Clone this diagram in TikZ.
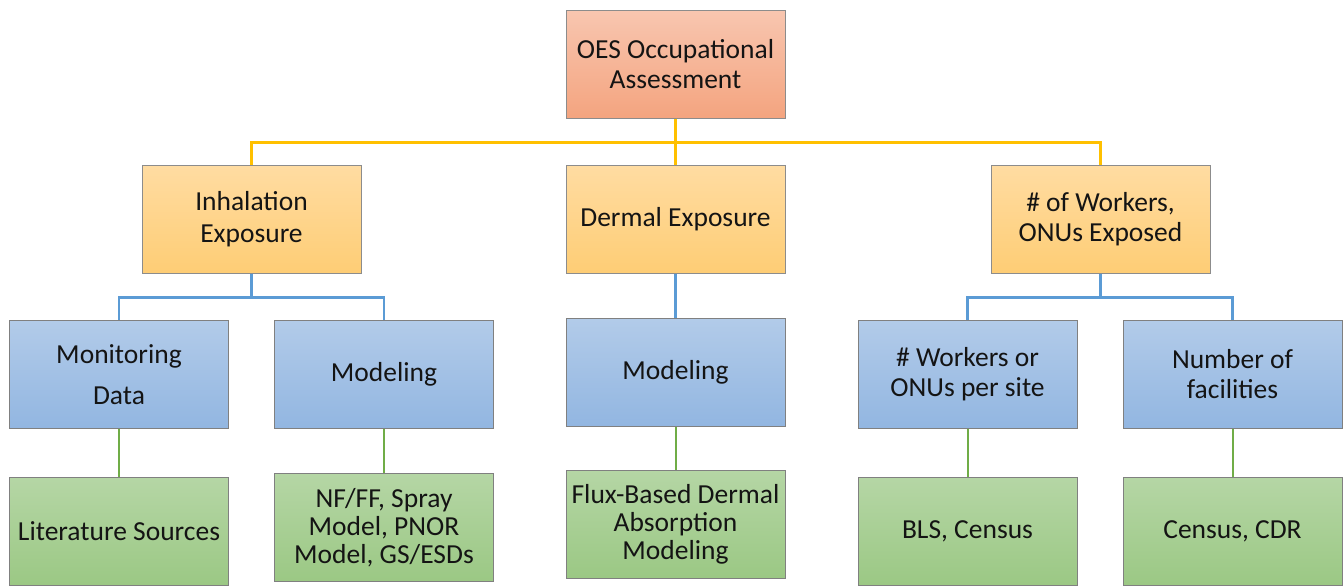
\documentclass[tikz,border=0pt]{standalone}
\usepackage{fontspec}
\setmainfont{Carlito}
\begin{document}
\begin{tikzpicture}[x=1pt,y=-1pt,
  box/.style={draw=#1, line width=1pt, minimum width=219pt, minimum height=108pt,
    align=center, inner sep=2pt, font=\fontsize{27.5}{30}\selectfont, text=black!92},
  rootbox/.style={box=black!45, top color=salmonTop, bottom color=salmonBot},
  midbox/.style={box=black!45, top color=amberTop, bottom color=amberBot},
  bluebox/.style={box=black!50, top color=blueTop, bottom color=blueBot},
  greenbox/.style={box=black!50, top color=greenTop, bottom color=greenBot},
  ylink/.style={draw=linkYellow, line width=2.4pt},
  blink/.style={draw=linkBlue, line width=2.4pt},
  glink/.style={draw=linkGreen, line width=2pt}]
\definecolor{salmonTop}{HTML}{F8C6B0}
\definecolor{salmonBot}{HTML}{F4A47F}
\definecolor{amberTop}{HTML}{FFDCA2}
\definecolor{amberBot}{HTML}{FECD75}
\definecolor{blueTop}{HTML}{B2CBE9}
\definecolor{blueBot}{HTML}{92B6E1}
\definecolor{greenTop}{HTML}{B5D6A5}
\definecolor{greenBot}{HTML}{9BC884}
\definecolor{linkYellow}{HTML}{FFC000}
\definecolor{linkBlue}{HTML}{5B9BD5}
\definecolor{linkGreen}{HTML}{70AD47}

\useasboundingbox (0,0) rectangle (1343,587);

% level 0
\node[rootbox] (oes) at (675.5,64) {OES Occupational\\Assessment};
% level 1
\node[midbox] (inh) at (251.5,219) {Inhalation\\[2pt]Exposure};
\node[midbox] (derm) at (675.5,219) {Dermal Exposure};
\node[midbox] (wrk) at (1100.5,219) {\# of Workers,\\ONUs Exposed};
% level 2
\node[bluebox] (mon) at (119,374.5) {Monitoring\\[11pt]Data};
\node[bluebox] (imod) at (384,374.5) {Modeling};
\node[bluebox] (dmod) at (675.5,372.5) {Modeling};
\node[bluebox] (wps) at (967.5,374.5) {\# Workers or\\ONUs per site};
\node[bluebox] (nfac) at (1232.5,374.5) {Number of\\facilities};
% level 3
\node[greenbox] (lit) at (119,531.5) {Literature Sources};
\node[greenbox] (nfff) at (384,527.5) {NF/FF, Spray\\[-2pt]Model, PNOR\\[-2pt]Model, GS/ESDs};
\node[greenbox] (flux) at (675.5,524) {Flux-Based Dermal\\[-2pt]Absorption\\[-2pt]Modeling};
\node[greenbox] (bls) at (967.5,531.5) {BLS, Census};
\node[greenbox] (cdr) at (1232.5,531.5) {Census, CDR};

% elbow connectors
\draw[ylink] (oes.south) -- ++(0,24) -| (inh.north);
\draw[ylink] (oes.south) -- ++(0,24) -| (wrk.north);
\draw[ylink] (oes.south) -- (derm.north);
\draw[blink] (inh.south) -- ++(0,24) -| (mon.north);
\draw[blink] (inh.south) -- ++(0,24) -| (imod.north);
\draw[blink] (derm.south) -- (dmod.north);
\draw[blink] (wrk.south) -- ++(0,24) -| (wps.north);
\draw[blink] (wrk.south) -- ++(0,24) -| (nfac.north);
\draw[glink] (mon.south) -- (lit.north);
\draw[glink] (imod.south) -- (nfff.north);
\draw[glink] (dmod.south) -- (flux.north);
\draw[glink] (wps.south) -- (bls.north);
\draw[glink] (nfac.south) -- (cdr.north);
\end{tikzpicture}
\end{document}
